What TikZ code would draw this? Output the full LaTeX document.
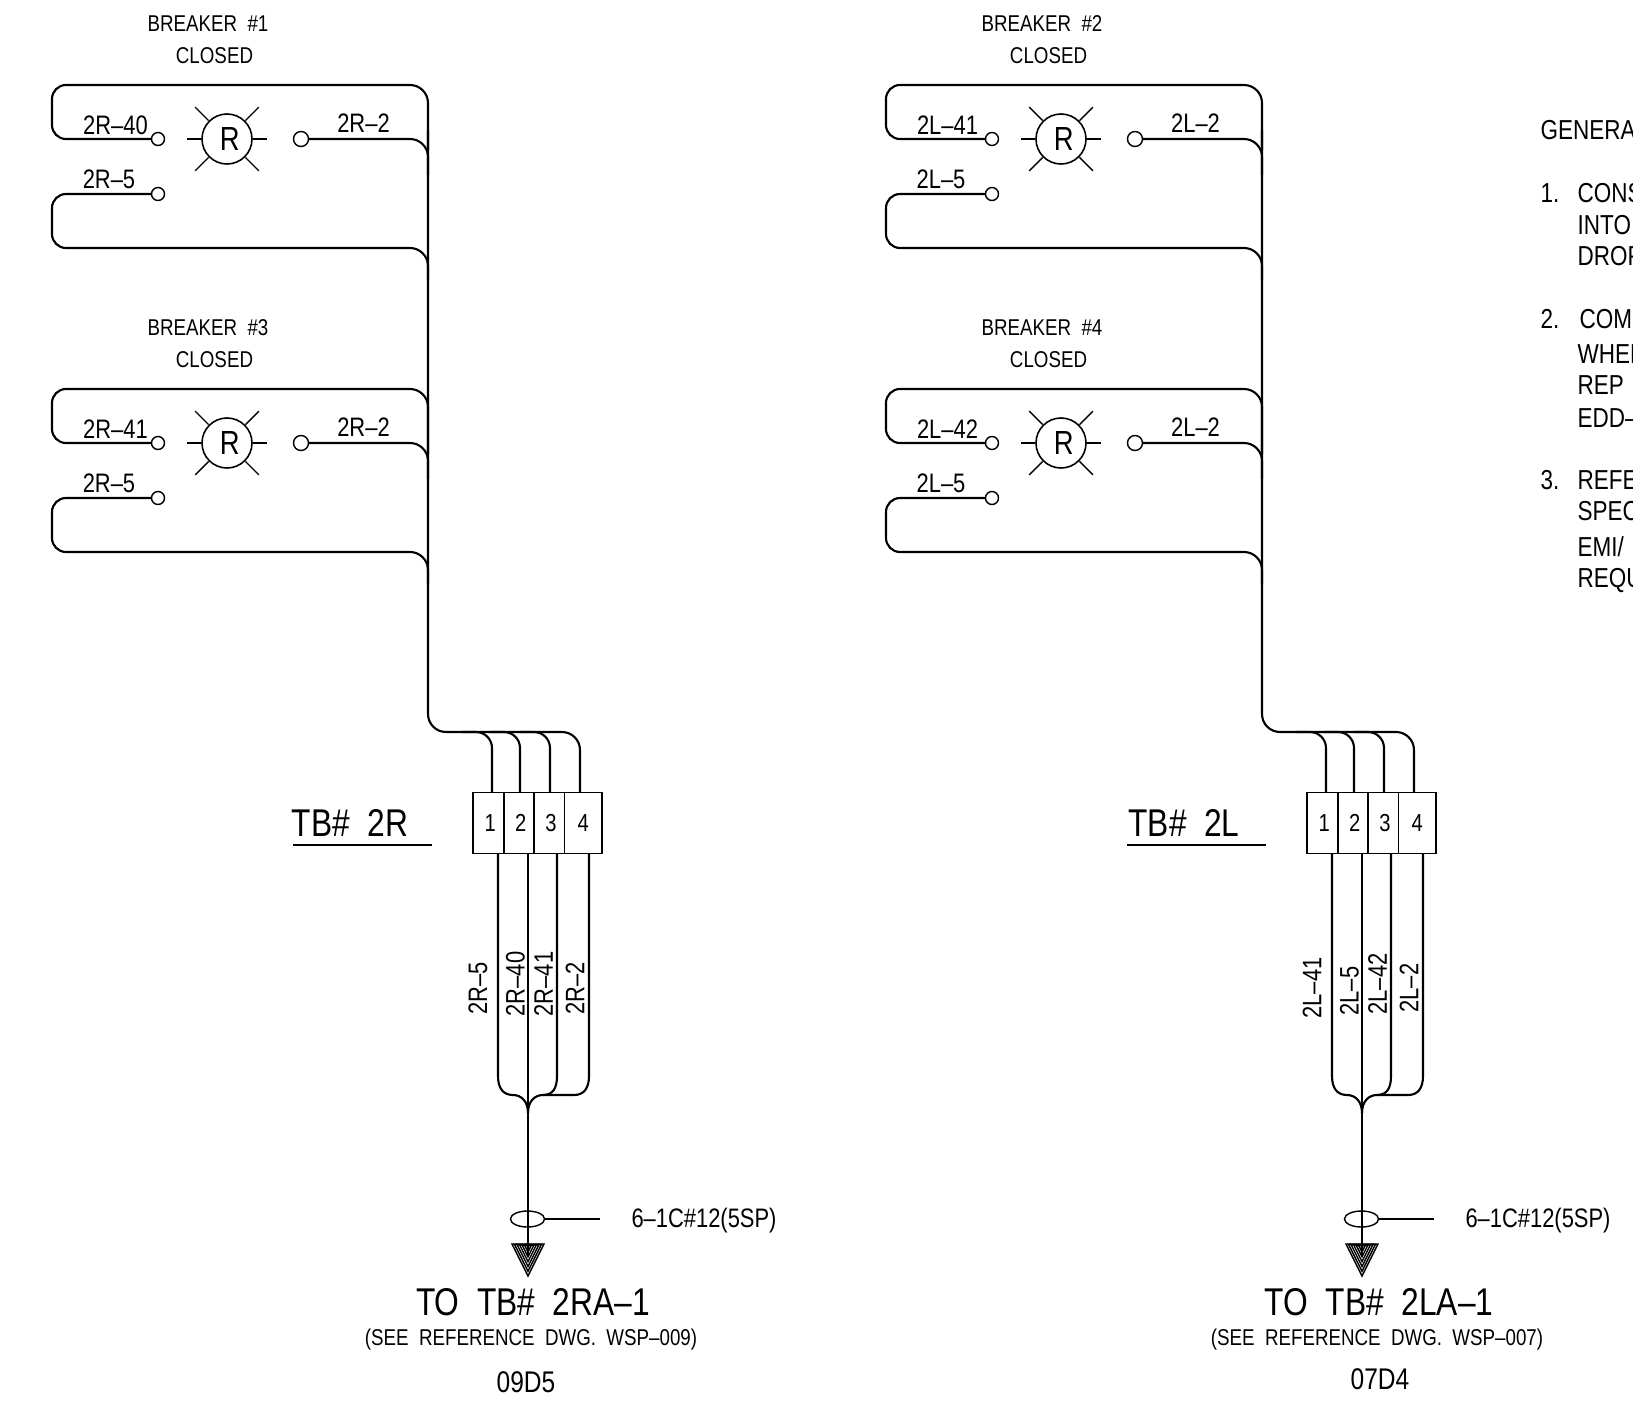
\documentclass[tikz,border=0pt]{standalone}
\usepackage{fontspec}
\setmainfont[FakeStretch=0.82]{Liberation Sans}
\usetikzlibrary{positioning,shapes.geometric}

\tikzset{
  wire/.style={line width=0.6pt},
  thinline/.style={line width=0.4pt},
  wirelabel/.style={inner sep=0pt,font=\fontsize{7.6}{9}\selectfont},
  titlelabel/.style={inner sep=0pt,font=\fontsize{6.5}{8}\selectfont},
  biglabel/.style={inner sep=0pt,font=\fontsize{11}{13}\selectfont},
  note/.style={inner sep=0pt,anchor=west,font=\fontsize{7.8}{10}\selectfont},
  terminal/.style={draw,circle,fill=white,thinline,inner sep=0pt,minimum size=0.13cm},
  lamp/.style={draw,circle,line width=0.45pt,inner sep=0pt,minimum size=0.5cm,font=\fontsize{9.5}{11}\selectfont},
  tbcell/.style={draw,thinline,inner sep=0pt,minimum height=0.61cm,font=\fontsize{7}{9}\selectfont,outer sep=0pt},
}

\begin{document}
\begin{tikzpicture}[x=0.01cm,y=-0.01cm]
\useasboundingbox (0,0) rectangle (1633,1415);
\clip (0,0) rectangle (1633,1415);

%Lamp groups, one for each breaker
\foreach \ox/\oy/\brk/\side/\wa/\dx in {0/0/1/R/40/0,0/304/3/R/41/0,834/0/2/L/41/-2,834/304/4/L/42/-2} {
  \begin{scope}[shift={(\ox,\oy)}]
    \node[titlelabel] (title\brk) at (208,24) {BREAKER\ \ \#\brk};
    \node[titlelabel] (state\brk) at (214.5,56) {CLOSED};
    \node[lamp] (lamp\brk) at (227,139) {\hspace{1.6pt}R};
    \node[terminal] (ta\brk) at (158,139) {};
    \node[terminal] (tb\brk) at (158,194) {};
    \node[terminal,minimum size=0.15cm] (tc\brk) at (301,139) {};
    \node[wirelabel] (wa\brk) at (115.5+\dx,125) {2\side--\wa};
    \node[wirelabel] (wb\brk) at (109+\dx,179) {2\side--5};
    \node[wirelabel] (wc\brk) at (363.5+\dx,123) {2\side--2};

    %Rays of the lamp
    \foreach \a/\r in {0/14,180/14,45/19,135/19,225/19,315/19}
      \draw[thinline] (lamp\brk.center) ++(\a:26) -- ++(\a:\r);

    % Loops into the bus
    \draw[wire,rounded corners=0.14cm] (ta\brk.west) -| (52,85) [rounded corners=0.18cm] -| (428,150);
    \draw[wire,rounded corners=0.18cm] (tc\brk.east) -| (428,175);
    \draw[wire,rounded corners=0.14cm] (tb\brk.west) -| (52,248) [rounded corners=0.18cm] -| (428,280);
  \end{scope}
}

%Terminal blocks and everything under them
\foreach \ox/\side/\txo/\drw/\loc/\locx/\locy/\oa/\ob/\oc/\od/\yb in {
  0/R/0/009/09D5/526/1382/5/40/41/2/984,
  834/L/12/007/07D4/546/1379/41/5/42/2/991} {
  \begin{scope}[shift={(\ox,0)}]
    \node[biglabel] (tbname\side) at (350,823) {TB\#\ \ 2\side};
    \coordinate (ula\side) at (293,845);
    \coordinate (ulb\side) at (432,845);
    \draw[wire] (ula\side) -- (ulb\side);

    \node[tbcell,minimum width=0.31cm] (cell1\side) at (488.5,823) {\hspace{1pt}1};
    \node[tbcell,minimum width=0.30cm,right=0pt of cell1\side] (cell2\side) {\hspace{1pt}2};
    \node[tbcell,minimum width=0.305cm,right=0pt of cell2\side] (cell3\side) {\hspace{1pt}3};
    \node[tbcell,minimum width=0.375cm,right=0pt of cell3\side] (cell4\side) {4\hspace{1pt}};

    % Bus down to the block
    \draw[wire,rounded corners=0.18cm] (428,130) |- (580,732) -- (580,792);
    \foreach \xa in {492,520,550}
      \draw[wire,rounded corners=0.16cm] (\xa-30,732) -| (\xa,792);

    % Wires joining the trunk
    \draw[wire] (528,853) -- (528,1256);
    \draw[wire] (498,853) -- (498,1076) .. controls (498,1088) and (503,1095) .. (513,1095) .. controls (521,1095) and (528,1101) .. (528,1113);
    \draw[wire] (557,853) -- (557,1076) .. controls (557,1088) and (553,1095) .. (543,1095) .. controls (535,1095) and (528,1101) .. (528,1113);
    \draw[wire] (589,853) -- (589,1076) .. controls (589,1088) and (584,1095) .. (574,1095) -- (543,1095);

    % Wire numbers on the block side
    \node[wirelabel,rotate=90] (va\side) at (478,988) {2\side--\oa};
    \node[wirelabel,rotate=90] (vb\side) at (515.5,\yb) {2\side--\ob};
    \node[wirelabel,rotate=90] (vc\side) at (543.6,984) {2\side--\oc};
    \node[wirelabel,rotate=90] (vd\side) at (575,988) {2\side--\od};

    % Cable marker
    \node[draw,ellipse,thinline,inner sep=0pt,minimum width=0.34cm,minimum height=0.16cm] (cable\side) at (527.5,1219) {};
    \coordinate (cablet\side) at (600,1219);
    \draw[thinline] (cable\side.east) -- (cablet\side);
    \node[wirelabel] (cabletxt\side) at (704,1221) {6--1C\#12(5SP)};

    % Off-page arrow
    \foreach \s in {1,0.84,0.68,0.52,0.36,0.2}
      \draw[line width=0.4pt] (528-16*\s,1246-2*\s) -- (528+16*\s,1246-2*\s) -- (528,1246+30*\s) -- cycle;

    \node[biglabel] (to\side) at (533+\txo,1302) {TO\ \ TB\#\ \ 2\side A--1};
    \node[titlelabel] (see\side) at (531+\txo,1340) {(SEE\ \ REFERENCE\ \ DWG.\ \ WSP--\drw)};
    \node[wirelabel,font=\fontsize{8.5}{10}\selectfont] (loc\side) at (\locx,\locy) {\loc};
  \end{scope}
}

%General notes, running off the sheet
\node[note] (gen) at (1540,130) {GENERA};
\node[note] (na) at (1540,193) {1.};
\node[note] (nb) at (1577,193) {CONS};
\node[note] (nc) at (1577,225) {INTO};
\node[note] (nd) at (1577,256) {DROP};
\node[note] (ne) at (1540,319) {2.};
\node[note] (nf) at (1579,319) {COMM};
\node[note] (ng) at (1577,354) {WHER};
\node[note] (nh) at (1577,385) {REP};
\node[note] (ni) at (1577,418) {EDD--};
\node[note] (nj) at (1540,480) {3.};
\node[note] (nk) at (1577,480) {REFE};
\node[note] (nl) at (1577,511) {SPEC};
\node[note] (nm) at (1577,547) {EMI/};
\node[note] (nn) at (1577,581) {REQU};
\end{tikzpicture}
\end{document}
